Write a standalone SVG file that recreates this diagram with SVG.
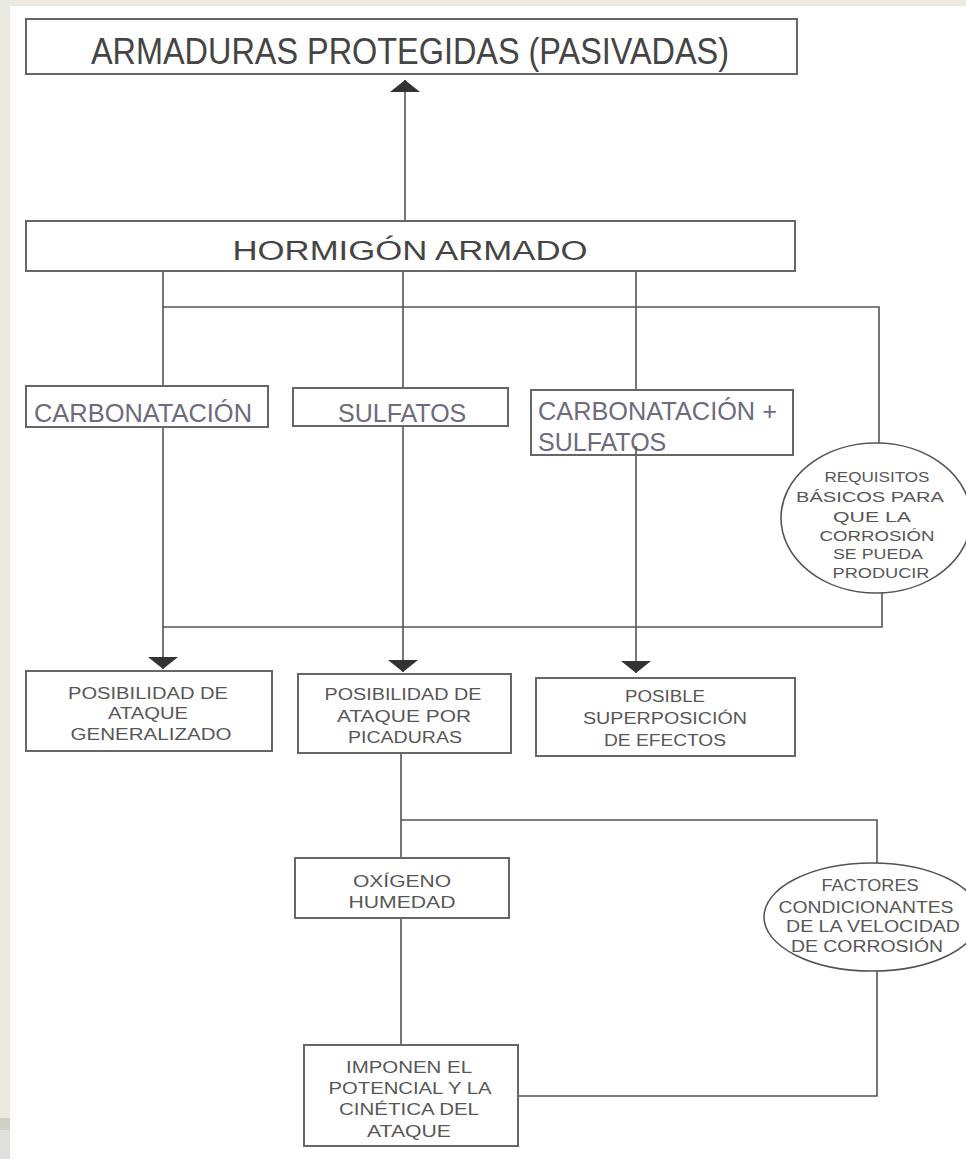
<svg xmlns="http://www.w3.org/2000/svg" width="966" height="1159" viewBox="0 0 966 1159">
<style>
.box{fill:#fff;stroke:#666;stroke-width:2}
.ell{fill:#fff;stroke:#555;stroke-width:1.6}
.ln{fill:none;stroke:#555;stroke-width:1.6}
.t{font-family:"Liberation Sans",Arial,sans-serif;fill:#454545;text-anchor:middle}
.s{font-size:16px;fill:#575757}
.e{font-size:14px;fill:#575757}
.b{font-family:"Liberation Sans",Arial,sans-serif;font-size:25px;fill:#6d6b7d}
</style>
<defs>
<marker id="ah" markerUnits="userSpaceOnUse" markerWidth="14" markerHeight="32" viewBox="0 -16 14 32" refX="12" refY="0" orient="auto">
<path d="M0,-15 L12,0 L0,15 z" fill="#333"/>
</marker>
</defs>
<rect x="0" y="0" width="966" height="1159" fill="#fff"/>
<rect x="0" y="0" width="966" height="6" fill="#ECEAE0"/>
<rect x="0" y="0" width="10" height="1159" fill="#ECEAE0"/>
<rect x="0" y="1118" width="10" height="12" fill="#cfcfc6"/>
<rect x="0" y="1130" width="10" height="29" fill="#E0DFDB"/>

<g id="connectors">
<path class="ln" d="M405,221 V80" marker-end="url(#ah)"/>
<path class="ln" d="M163,271 V669" marker-end="url(#ah)"/>
<path class="ln" d="M403,271 V672" marker-end="url(#ah)"/>
<path class="ln" d="M636,271 V673" marker-end="url(#ah)"/>
<path class="ln" d="M163,307 H879 V443"/>
<path class="ln" d="M163,627 H882 V592"/>
<path class="ln" d="M401,753 V858"/>
<path class="ln" d="M401,820 H877 V863"/>
<path class="ln" d="M401,918 V1045"/>
<path class="ln" d="M518,1096 H877 V971"/>
</g>

<g id="armaduras">
<rect class="box" x="26" y="19" width="771" height="55"/>
<text class="t" x="410" y="64" font-size="36" textLength="638" lengthAdjust="spacingAndGlyphs">ARMADURAS PROTEGIDAS (PASIVADAS)</text>
</g>
<g id="hormigon">
<rect class="box" x="26" y="221" width="769" height="50"/>
<text class="t" x="410" y="260" font-size="27" textLength="355" lengthAdjust="spacingAndGlyphs">HORMIGÓN ARMADO</text>
</g>
<g id="carbonatacion">
<rect class="box" x="26" y="386" width="242" height="41"/>
<text class="b" x="34" y="422" textLength="218" lengthAdjust="spacingAndGlyphs">CARBONATACIÓN</text>
</g>
<g id="sulfatos">
<rect class="box" x="293" y="388" width="215" height="38"/>
<text class="b" x="338" y="422">SULFATOS</text>
</g>
<g id="carb-sulf">
<rect class="box" x="531" y="390" width="262" height="65"/>
<text class="b" x="538" y="420" textLength="239" lengthAdjust="spacingAndGlyphs">CARBONATACIÓN +</text>
<text class="b" x="538" y="451">SULFATOS</text>
</g>
<path class="ln" d="M636,446 V455"/>
<g id="requisitos">
<ellipse class="ell" cx="876" cy="518" rx="95" ry="75"/>
<text class="t e" x="877" y="482" textLength="105" lengthAdjust="spacingAndGlyphs">REQUISITOS</text>
<text class="t e" x="870" y="502" textLength="148" lengthAdjust="spacingAndGlyphs">BÁSICOS PARA</text>
<text class="t e" x="872" y="522" textLength="78" lengthAdjust="spacingAndGlyphs">QUE LA</text>
<text class="t e" x="877" y="541" textLength="115" lengthAdjust="spacingAndGlyphs">CORROSIÓN</text>
<text class="t e" x="878" y="559" textLength="90" lengthAdjust="spacingAndGlyphs">SE PUEDA</text>
<text class="t e" x="881" y="578" textLength="97" lengthAdjust="spacingAndGlyphs">PRODUCIR</text>
</g>
<g id="generalizado">
<rect class="box" x="26" y="671" width="246" height="80"/>
<text class="t s" x="148" y="699" textLength="160" lengthAdjust="spacingAndGlyphs">POSIBILIDAD DE</text>
<text class="t s" x="148" y="719" textLength="80" lengthAdjust="spacingAndGlyphs">ATAQUE</text>
<text class="t s" x="151" y="740" textLength="161" lengthAdjust="spacingAndGlyphs">GENERALIZADO</text>
</g>
<g id="picaduras">
<rect class="box" x="298" y="674" width="213" height="79"/>
<text class="t s" x="403" y="700" textLength="157" lengthAdjust="spacingAndGlyphs">POSIBILIDAD DE</text>
<text class="t s" x="404" y="722" textLength="134" lengthAdjust="spacingAndGlyphs">ATAQUE POR</text>
<text class="t s" x="405" y="743" textLength="114" lengthAdjust="spacingAndGlyphs">PICADURAS</text>
</g>
<g id="efectos">
<rect class="box" x="536" y="678" width="259" height="78"/>
<text class="t s" x="665" y="702" textLength="80" lengthAdjust="spacingAndGlyphs">POSIBLE</text>
<text class="t s" x="665" y="724" textLength="164" lengthAdjust="spacingAndGlyphs">SUPERPOSICIÓN</text>
<text class="t s" x="665" y="746" textLength="122" lengthAdjust="spacingAndGlyphs">DE EFECTOS</text>
</g>
<g id="oxigeno">
<rect class="box" x="295" y="858" width="214" height="60"/>
<text class="t s" x="402" y="887" textLength="98" lengthAdjust="spacingAndGlyphs">OXÍGENO</text>
<text class="t s" x="402" y="908" textLength="107" lengthAdjust="spacingAndGlyphs">HUMEDAD</text>
</g>
<g id="factores">
<ellipse class="ell" cx="872" cy="917" rx="108" ry="54"/>
<text class="t s" x="870" y="891" textLength="97" lengthAdjust="spacingAndGlyphs">FACTORES</text>
<text class="t s" x="866" y="913" textLength="175" lengthAdjust="spacingAndGlyphs">CONDICIONANTES</text>
<text class="t s" x="873" y="932" textLength="174" lengthAdjust="spacingAndGlyphs">DE LA VELOCIDAD</text>
<text class="t s" x="867" y="952" textLength="152" lengthAdjust="spacingAndGlyphs">DE CORROSIÓN</text>
</g>
<g id="imponen">
<rect class="box" x="304" y="1045" width="214" height="101"/>
<text class="t s" x="409" y="1073" textLength="126" lengthAdjust="spacingAndGlyphs">IMPONEN EL</text>
<text class="t s" x="410" y="1094" textLength="163" lengthAdjust="spacingAndGlyphs">POTENCIAL Y LA</text>
<text class="t s" x="409" y="1115" textLength="140" lengthAdjust="spacingAndGlyphs">CINÉTICA DEL</text>
<text class="t s" x="409" y="1137" textLength="84" lengthAdjust="spacingAndGlyphs">ATAQUE</text>
</g>
</svg>
